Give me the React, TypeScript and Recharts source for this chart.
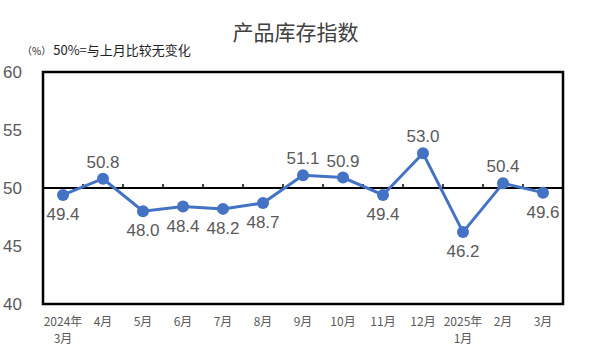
import React from "react";
import { LineChart, Line, XAxis, YAxis, ReferenceLine, ReferenceArea, LabelList } from "recharts";

// 产品库存指数, 2024年3月 - 2025年3月
const months = ["2024年\n3月", "4月", "5月", "6月", "7月", "8月", "9月", "10月", "11月", "12月", "2025年\n1月", "2月", "3月"];
const values = [49.4, 50.8, 48.0, 48.4, 48.2, 48.7, 51.1, 50.9, 49.4, 53.0, 46.2, 50.4, 49.6];
const yTicks = [40, 45, 50, 55, 60];

const data = values.map((v, i) => ({ idx: i, value: v }));
const xTicks = months.map((_, i) => i);
const boundaries = months.slice(1).map((_, i) => i + 0.5);

const BLUE = "#4472C4";
const GREY = "#595959";
const FONT = "'Noto Sans CJK SC', 'Noto Sans', sans-serif";

const XTick = (props: any) => {
    const { x, y, payload } = props;
    const lines = months[payload.value].split("\n");
    return (
        <text x={x} y={y + 14} textAnchor="middle" fill={GREY} fontSize={12} fontFamily={FONT}>
            {lines.map((l, i) => (
                <tspan key={i} x={x} dy={i === 0 ? 0 : 17}>{l}</tspan>
            ))}
        </text>
    );
};

const YTick = (props: any) => {
    const { y, payload } = props;
    return (
        <text x={22} y={y + 6} textAnchor="end" fill={GREY} fontSize={17} fontFamily="'Liberation Sans', Arial, sans-serif">
            {payload.value}
        </text>
    );
};

const ValueLabel = (props: any) => {
    const { x, y, value } = props;
    const above = value >= 50;
    return (
        <text x={x} y={above ? y - 11 : y + 25} textAnchor="middle" fill={GREY} fontSize={17} fontFamily="'Liberation Sans', Arial, sans-serif">
            {value.toFixed(1)}
        </text>
    );
};

export default function App() {
    return (
        <div style={{ position: "absolute", left: 0, top: 0, width: 591, height: 354, background: "#fff", fontFamily: FONT }}>
            <div style={{ position: "absolute", left: 0, width: 591, top: 16, textAlign: "center", fontSize: 21, color: "#404040" }}>
                产品库存指数
            </div>
            <div style={{ position: "absolute", left: 22, top: 40, fontSize: 13, color: "#222" }}>
                <span style={{ fontSize: 10 }}>（%）</span>
                <span style={{ marginLeft: 2 }}>50%=与上月比较无变化</span>
            </div>
            <LineChart width={591} height={354} data={data} margin={{ top: 72, right: 28, bottom: 0, left: 0 }}>
                <XAxis
                    dataKey="idx"
                    type="number"
                    domain={[-0.5, 12.5]}
                    ticks={xTicks}
                    tick={<XTick />}
                    tickLine={false}
                    axisLine={false}
                    interval={0}
                    height={50}
                />
                <YAxis
                    domain={[40, 60]}
                    ticks={yTicks}
                    tick={<YTick />}
                    tickLine={false}
                    axisLine={false}
                    width={43}
                />
                <ReferenceArea x1={-0.5} x2={12.5} y1={40} y2={60} fill="none" stroke="#000" strokeWidth={2.5} ifOverflow="visible" />
                <ReferenceLine y={50} stroke="#000" strokeWidth={2} />
                {boundaries.map((b) => (
                    <ReferenceLine key={b} segment={[{ x: b, y: 50 }, { x: b, y: 50.35 }]} stroke="#000" strokeWidth={1.5} />
                ))}
                <Line
                    type="linear"
                    dataKey="value"
                    stroke={BLUE}
                    strokeWidth={3}
                    dot={{ r: 6, fill: BLUE, stroke: BLUE, strokeWidth: 0 }}
                    isAnimationActive={false}
                >
                    <LabelList dataKey="value" content={<ValueLabel />} />
                </Line>
            </LineChart>
        </div>
    );
}
